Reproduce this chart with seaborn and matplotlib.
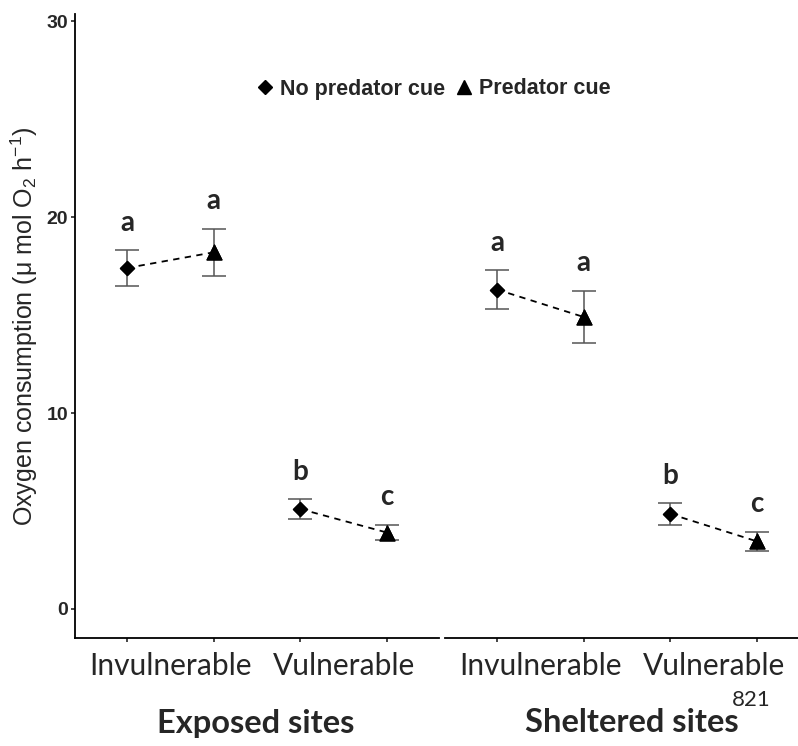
import numpy as np
import pandas as pd
import matplotlib
matplotlib.use('Agg')
import matplotlib.pyplot as plt
import seaborn as sns
from matplotlib.lines import Line2D

# data
sites = ['Exposed sites', 'Sheltered sites']
morph = ['Invulnerable', 'Invulnerable', 'Vulnerable', 'Vulnerable']
cue = ['No predator cue', 'Predator cue', 'No predator cue', 'Predator cue']
exposed_mean = [17.4, 18.2, 5.1, 3.9]
exposed_se = [0.9, 1.2, 0.5, 0.4]
sheltered_mean = [16.3, 14.9, 4.85, 3.45]
sheltered_se = [1.0, 1.35, 0.55, 0.5]
letters_exposed = ['a', 'a', 'b', 'c']
letters_sheltered = ['a', 'a', 'b', 'c']
group_labels = ['Invulnerable', 'Vulnerable']

rows = []
for site, means, ses, lets in [(sites[0], exposed_mean, exposed_se, letters_exposed),
                               (sites[1], sheltered_mean, sheltered_se, letters_sheltered)]:
    for i in range(4):
        rows.append({'site': site, 'pos': i, 'morph': morph[i], 'cue': cue[i],
                     'mean': means[i], 'se': ses[i], 'letter': lets[i]})
df = pd.DataFrame(rows)

sns.set_style('white')
plt.rcParams['font.family'] = ['Liberation Sans', 'DejaVu Sans']
plt.rcParams['mathtext.fontset'] = 'custom'
plt.rcParams['mathtext.rm'] = 'Liberation Sans'
plt.rcParams['mathtext.it'] = 'Liberation Sans'

fig = plt.figure(figsize=(7.98, 7.46), dpi=100)
W, H = 798, 746
ax1 = fig.add_axes([75 / W, 1 - 638 / H, 364 / W, 624 / H])
ax2 = fig.add_axes([445 / W, 1 - 638 / H, 364 / W, 624 / H])

markers = {'No predator cue': 'D', 'Predator cue': '^'}
sizes = {'No predator cue': 55, 'Predator cue': 115}

for ax, site in [(ax1, sites[0]), (ax2, sites[1])]:
    d = df[df['site'] == site]
    ax.errorbar(d['pos'], d['mean'], yerr=d['se'], fmt='none', ecolor='#555555',
                elinewidth=1.1, capsize=8.5, capthick=1.1, zorder=2)
    for g in [(0, 1), (2, 3)]:
        dd = d[d['pos'].isin(g)]
        sns.lineplot(data=dd, x='pos', y='mean', ax=ax, color='black', lw=1.3,
                     linestyle=(0, (3.5, 3)), zorder=3, legend=False)
    for c in cue:
        dc = d[d['cue'] == c]
        sns.scatterplot(data=dc, x='pos', y='mean', ax=ax, marker=markers[c],
                        s=sizes[c], color='black', edgecolor='black', zorder=4,
                        legend=False)
    for _, r in d.iterrows():
        ax.annotate(r['letter'], (r['pos'], r['mean'] + r['se']), xytext=(0, 14),
                    textcoords='offset points', ha='center', va='baseline',
                    fontsize=20, fontweight='bold', family='Lato')
    ax.set_xlim(-0.6, 3.6)
    ax.set_ylim(-1.48, 30.36)
    ax.set_xticks([0, 1, 2, 3])
    ax.set_xticklabels([])
    ax.set_xticks([0.5, 2.5], minor=True)
    ax.set_xticklabels(group_labels, minor=True, fontsize=21.5, family='Lato')
    ax.tick_params(axis='x', which='major', length=3, width=1.2, direction='out', bottom=True)
    ax.tick_params(axis='x', which='minor', length=0, pad=10)
    ax.set_xlabel('')
    ax.set_ylabel('')
    for s in ['top', 'right']:
        ax.spines[s].set_visible(False)
    ax.spines['bottom'].set_linewidth(1.3)
    ax.spines['bottom'].set_color('black')
    ax.patch.set_alpha(0)

ax1.set_yticks([0, 10, 20, 30])
ax1.set_yticklabels(['0', '10', '20', '30'], fontsize=14, fontweight='bold')
ax1.tick_params(axis='y', length=3, width=1.2, direction='out', left=True, pad=2)
ax1.spines['left'].set_linewidth(1.3)
ax1.spines['left'].set_color('black')
ax1.set_ylabel(r'Oxygen consumption ($\mathregular{\mu}$ mol O$_2$ h$^{-1}$)', fontsize=18)
ax1.yaxis.set_label_coords(-0.097, 0.5)

ax2.spines['left'].set_visible(False)
ax2.set_yticks([])

# legend
handles = [Line2D([], [], marker='D', color='black', ls='none', ms=7.5),
           Line2D([], [], marker='^', color='black', ls='none', ms=10)]
fig.legend(handles, cue, loc='center', bbox_to_anchor=(432 / W, 1 - 89 / H), ncol=2,
           frameon=False, prop={'weight': 'bold', 'size': 15.5}, handletextpad=0.15,
           columnspacing=0.3, handlelength=1.1)

fig.text(256 / W, 1 - 724 / H, sites[0], ha='center', va='center', fontsize=23.5,
         fontweight='bold', family='Lato')
fig.text(632 / W, 1 - 722 / H, sites[1], ha='center', va='center', fontsize=23.5,
         fontweight='bold', family='Lato')
fig.text(751 / W, 1 - 700 / H, '821', ha='center', va='center', fontsize=16, family='Lato')

fig.savefig('out.png', dpi=100)
